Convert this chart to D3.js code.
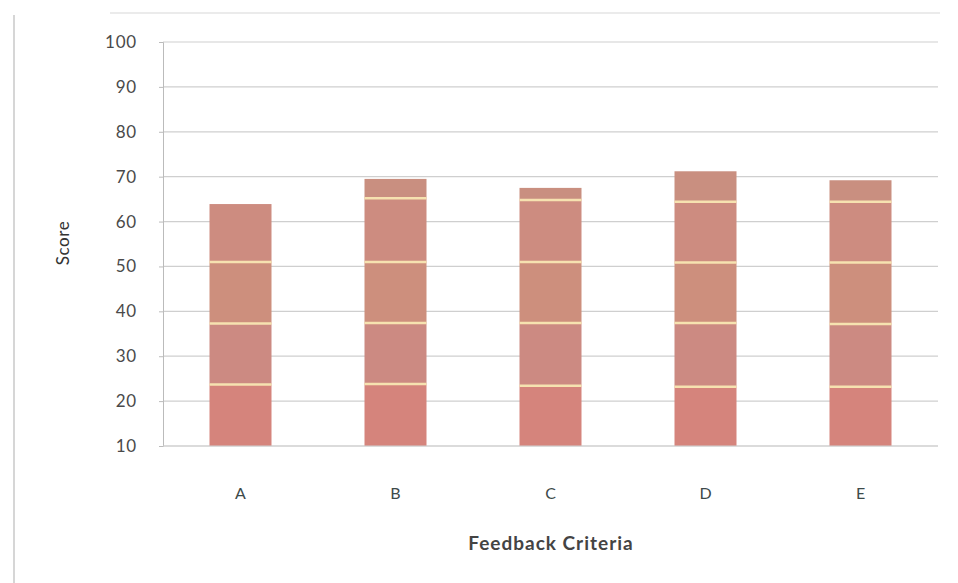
<!DOCTYPE html>
<html>
<head>
<meta charset="utf-8">
<script src="https://cdn.jsdelivr.net/npm/d3@7"></script>
<style>
  html, body { margin: 0; padding: 0; background: #fff; }
  svg { display: block; font-family: Lato, "Open Sans", sans-serif; }
</style>
</head>
<body>
<svg id="chart" width="958" height="583"></svg>
<script>
// ---- Data ----
const categories = ["A", "B", "C", "D", "E"];
const baseline = 10;
// stacked segment heights (score units) above the baseline of 10
const seg1 = [13.7, 13.8, 13.4, 13.2, 13.2];
const seg2 = [13.6, 13.6, 14.0, 14.2, 14.0];
const seg3 = [13.7, 13.6, 13.6, 13.5, 13.7];
const seg4 = [12.9, 14.2, 13.8, 13.5, 13.5];
const seg5 = [0.0, 4.3, 2.7, 6.8, 4.8];
const yTicks = [10, 20, 30, 40, 50, 60, 70, 80, 90, 100];
const yLabel = "Score";
const xLabel = "Feedback Criteria";

const segNames = ["s1", "s2", "s3", "s4", "s5"];
const segArrays = [seg1, seg2, seg3, seg4, seg5];
const segColors = ["#d5847c", "#cc8a82", "#cd8f7d", "#cd8c80", "#c98f80"];

const rows = categories.map((c, i) => {
  const r = { cat: c };
  segNames.forEach((n, k) => r[n] = segArrays[k][i]);
  return r;
});

const svg = d3.select("#chart");
const margin = { left: 163, right: 20, top: 42, bottom: 137 };
const W = 958, H = 583;

const x = d3.scaleBand().domain(categories).range([margin.left, W - margin.right]).paddingInner(0.6).paddingOuter(0.3);
const y = d3.scaleLinear().domain([10, 100]).range([H - margin.bottom, margin.top]);

// decorative frame lines
svg.append("line").attr("x1", 14).attr("x2", 14).attr("y1", 15).attr("y2", 583)
  .attr("stroke", "#c8c8c8").attr("stroke-width", 1.5);
svg.append("line").attr("x1", 110).attr("x2", 940).attr("y1", 13).attr("y2", 13)
  .attr("stroke", "#e4e4e4").attr("stroke-width", 1.5);

// gridlines
svg.append("g").selectAll("line").data(yTicks).join("line")
  .attr("x1", margin.left).attr("x2", W - margin.right)
  .attr("y1", d => y(d)).attr("y2", d => y(d))
  .attr("stroke", "#cfcfcf").attr("stroke-width", 1.2);

// y axis
const yAxis = svg.append("g").attr("transform", `translate(${margin.left},0)`)
  .call(d3.axisLeft(y).tickValues(yTicks).tickSize(4).tickPadding(22));
yAxis.select(".domain").attr("stroke", "#bbbbbb");
yAxis.selectAll(".tick line").attr("stroke", "#bbbbbb");
yAxis.selectAll("text").attr("font-size", 17).attr("fill", "#4a4a4a")
  .attr("letter-spacing", 0.8)
  .attr("font-family", "Lato, sans-serif");

// stacked bars
const stack = d3.stack().keys(segNames)(rows);
const layers = svg.append("g").selectAll("g").data(stack).join("g")
  .attr("fill", (d, i) => segColors[i]);
layers.selectAll("rect").data(d => d).join("rect")
  .attr("x", d => x(d.data.cat))
  .attr("width", x.bandwidth())
  .attr("y", d => y(baseline + d[1]))
  .attr("height", d => y(baseline + d[0]) - y(baseline + d[1]));

// light separators between segments
const seps = [];
stack.slice(0, 4).forEach((layer, k) => {
  layer.forEach(d => {
    if (k < 3 || d.data.s5 > 0) seps.push({ cat: d.data.cat, v: baseline + d[1] });
  });
});
svg.append("g").selectAll("line").data(seps).join("line")
  .attr("x1", d => x(d.cat)).attr("x2", d => x(d.cat) + x.bandwidth())
  .attr("y1", d => y(d.v)).attr("y2", d => y(d.v))
  .attr("stroke", "#f6e2b0").attr("stroke-width", 2.5);

// x axis baseline & labels
svg.append("line").attr("x1", margin.left).attr("x2", W - margin.right)
  .attr("y1", y(10)).attr("y2", y(10)).attr("stroke", "#cfcfcf").attr("stroke-width", 1.2);
svg.append("g").selectAll("text").data(categories).join("text")
  .attr("x", d => x(d) + x.bandwidth() / 2)
  .attr("y", 499)
  .attr("text-anchor", "middle")
  .attr("font-size", 16).attr("fill", "#3d4a4a")
  .text(d => d);

// axis titles
svg.append("text").attr("transform", `translate(69,243) rotate(-90)`)
  .attr("text-anchor", "middle").attr("font-size", 17).attr("fill", "#333")
  .attr("letter-spacing", 0.6)
  .text(yLabel);
svg.append("text").attr("x", 551).attr("y", 550)
  .attr("text-anchor", "middle").attr("font-size", 19).attr("font-weight", "bold")
  .attr("letter-spacing", 1)
  .attr("fill", "#444").text(xLabel);
</script>
</body>
</html>
